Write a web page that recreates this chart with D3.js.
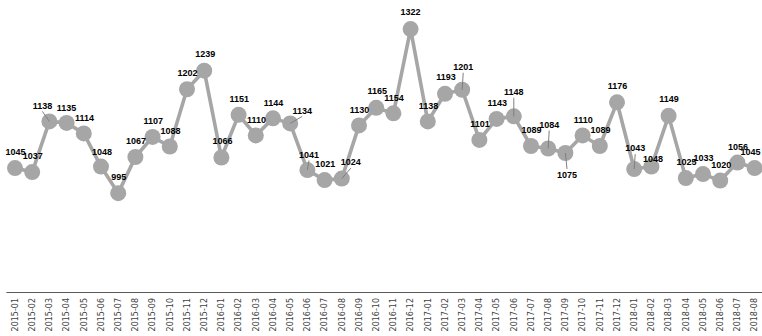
<!DOCTYPE html>
<html><head><meta charset="utf-8">
<script src="https://cdn.jsdelivr.net/npm/d3@7"></script>
<style>
html,body{margin:0;padding:0;background:#fff;}
svg{display:block;}
</style></head>
<body>
<svg id="c" width="762" height="336"></svg>
<script>
const months = ["2015-01","2015-02","2015-03","2015-04","2015-05","2015-06","2015-07","2015-08","2015-09","2015-10","2015-11","2015-12",
"2016-01","2016-02","2016-03","2016-04","2016-05","2016-06","2016-07","2016-08","2016-09","2016-10","2016-11","2016-12",
"2017-01","2017-02","2017-03","2017-04","2017-05","2017-06","2017-07","2017-08","2017-09","2017-10","2017-11","2017-12",
"2018-01","2018-02","2018-03","2018-04","2018-05","2018-06","2018-07","2018-08"];
const values = [1045,1037,1138,1135,1114,1048,995,1067,1107,1088,1202,1239,
1066,1151,1110,1144,1134,1041,1021,1024,1130,1165,1154,1322,
1138,1193,1201,1101,1143,1148,1089,1084,1075,1110,1089,1176,
1043,1048,1149,1025,1033,1020,1056,1045];
const yDomain = [800, 1350];

// label placement tweaks (index -> [dx, dy]) and which labels have leader lines
const labelShift = {2:[-7,-16],3:[0,-15.5],5:[1,-15],11:[1,-16.6],12:[1,-17],16:[12,-13],17:[1.6,-15.6],19:[9,-16.5],
  21:[1,-17],23:[0,-17],25:[1,-17],26:[1,-23],29:[0,-24.6],31:[1,-24],32:[1.6,22],36:[1,-21],37:[1.6,-8],38:[0.4,-16.8],41:[1,-15.5],43:[-4,-16]};
const leaders = [2,16,17,19,26,29,31,32,36];

const svg = d3.select("#c");
const x = d3.scaleBand().domain(months).range([6.4, 763.2]).paddingInner(0).paddingOuter(0);
const y = d3.scaleLinear().domain(yDomain).range([291, 15]);
const cx = m => x(m) + x.bandwidth()/2;

const data = months.map((m,i)=>({m, v: values[i], i}));

// axis line
svg.append("line").attr("x1", x.range()[0]).attr("x2", x.range()[1])
  .attr("y1", 292.5).attr("y2", 292.5).attr("stroke", "#595959").attr("stroke-width", 1.2);

// tick labels
svg.append("g").selectAll("text").data(months).join("text")
  .attr("transform", d => `translate(${cx(d)},298) rotate(-90)`)
  .attr("text-anchor", "end").attr("dy", "0.35em")
  .attr("font-family", "DejaVu Sans, Verdana, sans-serif").attr("font-size", "8px")
  .attr("fill", "#404040").text(d => d);

// line
svg.append("path").datum(data)
  .attr("d", d3.line().x(d => cx(d.m)).y(d => y(d.v)))
  .attr("fill", "none").attr("stroke", "#a6a6a6").attr("stroke-width", 3.6).attr("stroke-linejoin", "round");

// markers
svg.append("g").selectAll("circle").data(data).join("circle")
  .attr("cx", d => cx(d.m)).attr("cy", d => y(d.v)).attr("r", 8)
  .attr("fill", "#a6a6a6");

const lp = d => { const s = labelShift[d.i] || [0.6,-16]; return [cx(d.m)+s[0], y(d.v)+s[1]]; };

// leader lines
svg.append("g").selectAll("line").data(data.filter(d => leaders.includes(d.i))).join("line")
  .attr("x1", d => lp(d)[0]).attr("y1", d => lp(d)[1] + (lp(d)[1] < y(d.v) ? 6 : -6))
  .attr("x2", d => cx(d.m)).attr("y2", d => y(d.v))
  .attr("stroke", "#7f7f7f").attr("stroke-width", 1);

// value labels
svg.append("g").selectAll("text").data(data).join("text")
  .attr("x", d => lp(d)[0]).attr("y", d => lp(d)[1]).attr("dy", "0.35em")
  .attr("text-anchor", "middle")
  .attr("font-family", "Liberation Sans, Arial, sans-serif").attr("font-size", "9px").attr("font-weight", "bold")
  .attr("fill", "#000").text(d => d.v);
</script>
</body></html>
